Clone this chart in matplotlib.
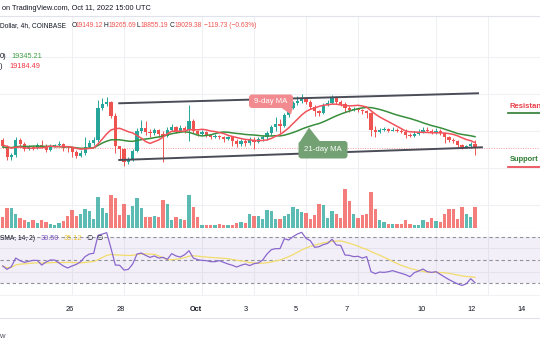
import matplotlib
matplotlib.use("Agg")
import matplotlib.pyplot as plt
import numpy as np
import pandas as pd
from matplotlib.patches import FancyBboxPatch, Polygon

plt.rcParams["font.family"] = ["Liberation Sans", "DejaVu Sans"]

# BTC/USD 4h candles (Coinbase); the first plotted candle opens 23 Sep 2022 08:00 UTC
first_candle = "2022-09-23 08:00"
first_open = 19256

closes = [
    19094, 18796, 18850, 19256, 19148, 19013, 19067, 19040, 19121, 19094,
    18986, 19094, 19121, 19148, 19040, 19026, 18931, 18823, 18904, 19067,
    19175, 19256, 20121, 20229, 20283, 19905, 19094, 19013, 18661, 18742,
    18959, 19499, 19580, 19472, 19445, 19526, 19418, 19364, 19526, 19607,
    19499, 19580, 19526, 19769, 19499, 19418, 19472, 19391, 19337, 19364,
    19337, 19283, 19337, 19229, 19148, 19229, 19175, 19256, 19202, 19283,
    19337, 19445, 19607, 19688, 19634, 19932, 20121, 20256, 20310, 20391,
    20283, 20148, 20040, 19986, 20202, 20256, 20418, 20283, 20229, 20121,
    20067, 20094, 20067, 20040, 19986, 19526, 19472, 19526, 19553, 19511,
    19523, 19496, 19469, 19388, 19361, 19415, 19469, 19523, 19496, 19442,
    19496, 19436, 19328, 19247, 19220, 19112, 19058, 19081, 19149.12, 19029.38,
]
highs = [
    19310, 19121, 18904, 19337, 19310, 19202, 19121, 19094, 19175, 19256,
    19148, 19148, 19148, 19229, 19175, 19094, 19067, 18986, 18986, 19337,
    19256, 19337, 20337, 20391, 20418, 20310, 19986, 19094, 19040, 18796,
    19013, 19580, 19796, 19769, 19553, 19580, 19553, 19499, 19607, 19688,
    19634, 19661, 19634, 20202, 19823, 19526, 19526, 19499, 19418, 19418,
    19391, 19364, 19364, 19364, 19283, 19283, 19283, 19337, 19337, 19337,
    19391, 19499, 19661, 19878, 19823, 19986, 20175, 20310, 20445, 20499,
    20418, 20337, 20202, 20067, 20256, 20337, 20472, 20445, 20337, 20283,
    20175, 20148, 20121, 20094, 20067, 20013, 19634, 19580, 19607, 19580,
    19607, 19580, 19553, 19553, 19445, 19499, 19553, 19607, 19607, 19553,
    19580, 19553, 19472, 19364, 19310, 19256, 19148, 19121, 19202, 19265.69,
]
lows = [
    19040, 18715, 18715, 18796, 19094, 18959, 18986, 18986, 19013, 19040,
    18931, 18959, 19067, 19094, 18959, 18931, 18796, 18769, 18796, 18850,
    19040, 19121, 19202, 20067, 20175, 19850, 18904, 18715, 18553, 18607,
    18688, 18931, 19445, 19391, 19337, 19391, 19337, 18661, 19337, 19499,
    19445, 19472, 19445, 19229, 19445, 19364, 19391, 19337, 19283, 19310,
    19283, 19202, 19256, 19094, 19067, 19094, 19094, 19121, 19013, 19175,
    19229, 19256, 19391, 19499, 19445, 19607, 19878, 20094, 20202, 20256,
    20229, 20094, 19905, 19905, 19959, 20175, 20229, 20229, 20175, 20013,
    20013, 20040, 20013, 19959, 19850, 19364, 19337, 19445, 19499, 19472,
    19499, 19472, 19445, 19310, 19337, 19337, 19390, 19440, 19472, 19418,
    19420, 19391, 19175, 19202, 19175, 19040, 19013, 19040, 19040, 18855.19,
]
volumes = [
    1100, 2000, 2000, 1400, 1000, 800, 600, 800, 500, 800,
    600, 400, 300, 500, 700, 1200, 1800, 1200, 1400, 1900,
    1700, 900, 3100, 2000, 1500, 3300, 3000, 1300, 2400, 1300,
    2200, 3000, 2000, 1100, 1100, 1200, 1100, 2800, 2400, 800,
    1100, 900, 800, 3300, 2100, 1100, 300, 300, 300, 300,
    330, 300, 250, 250, 430, 530, 430, 1400, 1200, 1200,
    900, 1800, 1700, 900, 830, 1130, 1400, 2070, 1900, 1570,
    1470, 900, 1230, 2400, 2230, 1000, 1670, 1400, 1000, 3900,
    2670, 1400, 1000, 1230, 1330, 3570, 1900, 730, 570, 400,
    330, 400, 330, 730, 330, 300, 300, 800, 570, 1000,
    670, 570, 1330, 1900, 1900, 900, 2070, 1400, 1070, 2070,
]

# closes of the 20 candles before the first plotted one (moving average warm-up)
earlier_closes = [
    19050, 18950, 18800, 18900, 19100, 19000, 18850, 19150, 19200, 19000,
    19100, 19220, 19150, 19250, 19050, 19100, 19200, 19150, 19040, 19050,
]

# RSI(14) per candle; the yellow line is its 14-period SMA
rsi_values = [
    44.9, 42.0, 44.3, 51.7, 49.5, 48.0, 48.9, 49.7, 49.7, 45.7,
    48.3, 50.0, 50.0, 47.5, 44.9, 43.2, 44.9, 46.3, 48.6, 52.9,
    55.2, 55.8, 71.2, 72.3, 73.5, 60.0, 45.7, 45.5, 41.4, 42.0,
    46.6, 55.2, 56.0, 54.0, 52.3, 53.5, 51.7, 52.3, 50.6, 55.5,
    53.5, 52.6, 54.6, 58.0, 51.7, 50.3, 49.7, 49.5, 48.6, 48.6,
    49.5, 48.0, 46.6, 45.5, 44.0, 45.5, 46.6, 45.2, 46.9, 47.5,
    50.0, 55.2, 58.9, 59.8, 59.8, 68.3, 67.2, 70.1, 72.3, 73.8,
    68.6, 66.6, 60.9, 61.5, 63.2, 64.3, 67.8, 62.9, 62.6, 54.3,
    54.0, 52.9, 53.2, 51.7, 52.9, 40.0, 38.3, 39.7, 39.4, 40.0,
    40.9, 39.7, 38.6, 37.4, 35.7, 39.2, 40.6, 42.3, 40.0, 39.4,
    40.0, 37.7, 35.4, 33.2, 31.3, 29.5, 28.2, 29.6, 34.0, 30.50,
]
rsi_ma_period = 14

# channel drawn over the candles (candle position, price) at both ends
resistance_x = [26.9, 109.7]
resistance_y = [20248, 20518]
support_x = [26.9, 110.6]
support_y = [18715, 19058]

price_grid = [17500, 18500, 19500, 20500, 21500]
day_ticks = ["2022-09-26", "2022-09-28", "2022-10-01", "2022-10-03", "2022-10-05",
             "2022-10-07", "2022-10-10", "2022-10-12", "2022-10-14"]
day_labels = ["26", "28", "Oct", "3", "5", "7", "10", "12", "14"]

W, H = 540, 340
GREEN, RED = "#26a69a", "#ef5350"
DARK = "#131722"
GRID = "#eef0f4"
BORDER = "#e0e3eb"

n = len(closes)
x = np.arange(n)
times = pd.date_range(first_candle, periods=n, freq="4h")
day_pos = [(pd.Timestamp(d) - times[0]) / pd.Timedelta("4h") for d in day_ticks]

c = np.array(closes, dtype=float)
o = np.r_[first_open, c[:-1]]
colors = np.where(c >= o, GREEN, RED)

hist = pd.Series(earlier_closes + closes, dtype=float)
ma9 = hist.rolling(9).mean().iloc[len(earlier_closes):].to_numpy()
ma21 = hist.rolling(21).mean().iloc[len(earlier_closes):].to_numpy()
rsi = pd.Series(rsi_values)
rsi_ma = rsi.rolling(rsi_ma_period, min_periods=1).mean()

fig = plt.figure(figsize=(W / 100, H / 100), dpi=100)


def pane(top, bottom, **kw):
    # top/bottom are pixel rows counted from the top of the figure
    return fig.add_axes([0, 1 - bottom / H, 1, (bottom - top) / H], **kw)


ax = pane(16, 228)
axv = pane(168, 227.5, sharex=ax)
axr = pane(228, 295, sharex=ax)
axt = pane(295, 318)

for a in (ax, axv, axr, axt):
    a.tick_params(length=0, labelbottom=False, labelleft=False)
    for s in a.spines.values():
        s.set_visible(False)

# price pane
ax.set_xlim(-0.62, 124.0)
ax.set_ylim(16877, 22607)
ax.set_xticks(day_pos[:-1])
ax.set_yticks(price_grid)
ax.grid(True, color=GRID, lw=0.8)
ax.set_axisbelow(True)
for side in ("top", "bottom"):
    ax.spines[side].set_visible(True)
    ax.spines[side].set_color(BORDER)
    ax.spines[side].set_linewidth(0.8)

ax.axhline(closes[-1], color=RED, lw=0.7, ls=(0, (1, 1.5)), alpha=0.55, zorder=2)
ax.vlines(x, lows, highs, colors=colors, lw=0.7, zorder=3)
ax.bar(x, np.maximum(np.abs(c - o), 25), bottom=np.minimum(o, c), width=0.7,
       color=colors, lw=0, zorder=4)
ax.plot(x, ma21, color="#388e3c", lw=1.1, zorder=5)
ax.plot(x, ma9, color="#f2525b", lw=1.1, zorder=5)
ax.plot(resistance_x, resistance_y, color="#4a4d57", lw=1.4, zorder=6)
ax.plot(support_x, support_y, color="#4a4d57", lw=1.4, zorder=6)

# volume along the bottom of the price pane
axv.bar(x, volumes, width=0.8, color=colors, alpha=0.75, lw=0)
axv.set_ylim(0, 5950)
axv.patch.set_visible(False)

# RSI pane
axr.set_ylim(20, 77.5)
axr.set_yticks([40, 60])
axr.grid(True, color=GRID, lw=0.8)
axr.set_axisbelow(True)
axr.axhspan(30, 70, color="#7e57c2", alpha=0.09, lw=0)
for lvl in (70, 50, 30):
    axr.axhline(lvl, color="#8f929b", lw=0.8, ls=(0, (3, 2.5)))
axr.plot(x, rsi_ma, color="#f2dc6b", lw=0.9)
axr.plot(x, rsi, color="#8a68cc", lw=0.9)

# time scale
axt.set_xlim(-0.73, 128.3)
axt.set_ylim(0, 1)
axt.spines["bottom"].set_visible(True)
axt.spines["bottom"].set_color(BORDER)
axt.spines["top"].set_visible(True)
axt.spines["top"].set_color("#f0f2f6")
for p, lab in zip(day_pos, day_labels):
    axt.text(p, 0.35, lab, ha="center", va="center", fontsize=5.3, color=DARK,
             fontweight="bold" if lab == "Oct" else "normal")

# text and callouts laid out in pixel units
over = fig.add_axes([0, 0, 1, 1], facecolor="none")
over.set_xlim(0, W)
over.set_ylim(H, 0)
over.axis("off")
over.set_zorder(10)

fs = 5.3
fs_row = 4.8
over.text(2, 9, "on TradingView.com, Oct 11, 2022 15:00 UTC", fontsize=fs, color=DARK, va="center")
over.text(0, 25.5, "Dollar, 4h, COINBASE", fontsize=fs_row, color=DARK, va="center")
ohlc = [("O", 71.5, o[-1]), ("H", 104, highs[-1]), ("L", 136.5, lows[-1]), ("C", 170, c[-1])]
for key, px, val in ohlc:
    over.text(px, 25.5, key, fontsize=fs_row, color=DARK, va="center")
    over.text(px + 4.3, 25.5, f"{val:.2f}", fontsize=fs_row, color=RED, va="center")
over.text(203.5, 25.5, "\u2212119.73 (\u22120.63%)", fontsize=fs_row, color=RED, va="center")

over.text(0, 57, "0)", fontsize=fs, color=DARK, va="center")
over.text(11.5, 57, "19345.21", fontsize=fs, color="#43a047", va="center")
over.text(-0.5, 66, ")", fontsize=fs, color=DARK, va="center")
over.text(9, 66, "19184.49", fontsize=fs, color="#f23645", va="center")

over.text(-0.5, 238, "SMA, 14, 2)", fontsize=fs_row, color=DARK, va="center")
over.text(40.5, 238, "30.50", fontsize=fs, color="#7e57c2", va="center")
over.text(64, 238, "35.12", fontsize=fs, color="#e8c840", va="center")
over.text(86, 238, "\u2205", fontsize=fs, color=DARK, va="center")
over.text(96.5, 238, "\u2205", fontsize=fs, color=DARK, va="center")

over.text(-0.5, 337, "w", fontsize=5.5, color="#50535e", va="center")

# moving average callouts
pink, sage = "#f28b90", "#74a174"
over.add_patch(FancyBboxPatch((249, 94.5), 44, 13.5, boxstyle="round,pad=0,rounding_size=3",
                              fc=pink, ec="none"))
over.add_patch(Polygon([(281, 107.5), (293, 107.5), (291, 114.5)], fc=pink, ec="none"))
over.text(271, 101.3, "9-day MA", fontsize=5.6, color="white", ha="center", va="center")

over.add_patch(FancyBboxPatch((298.5, 141), 49, 17.5, boxstyle="round,pad=0,rounding_size=3",
                              fc=sage, ec="none"))
over.add_patch(Polygon([(300, 141.5), (320, 141.5), (309, 127.5)], fc=sage, ec="none"))
over.text(323, 149.8, "21-day MA", fontsize=5.6, color="white", ha="center", va="center")

# level labels at the right edge, running off the chart like the price scale
over.text(510, 106.5, "Resistance", fontsize=5.6, color="#e8404a", fontweight="bold", va="center")
over.plot([508, 540], [113, 113], color="#2e7d32", lw=1.2)
over.text(510, 159.5, "Support", fontsize=5.4, color="#2e7d32", fontweight="bold", va="center")
over.plot([508, 540], [166.5, 166.5], color="#e8404a", lw=1.2)

fig.savefig("out.png", dpi=100)
